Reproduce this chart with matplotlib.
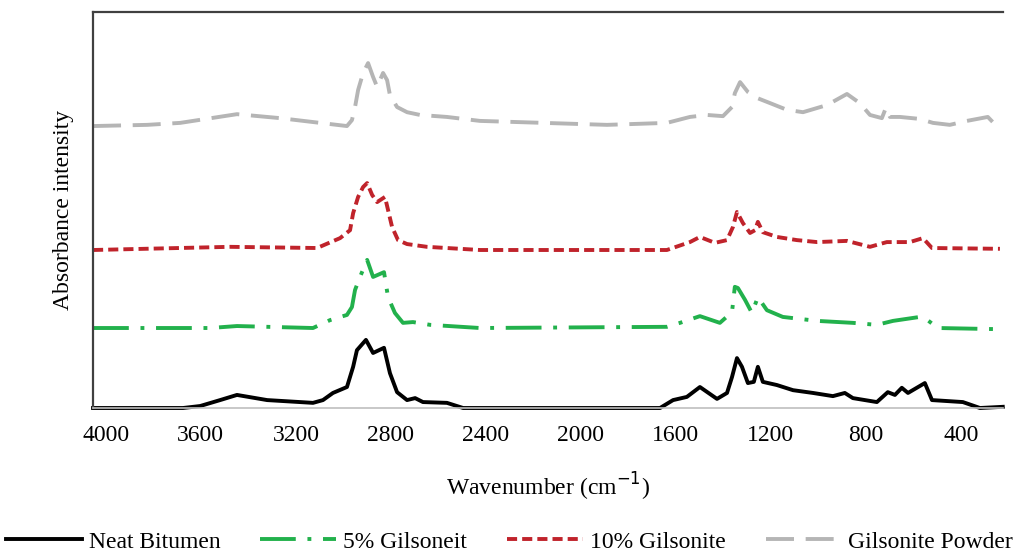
import matplotlib
matplotlib.use("Agg")
import matplotlib.pyplot as plt

plt.rcParams["font.family"] = ["Liberation Serif", "DejaVu Serif"]

# spectra (wavenumber in cm^-1, stacked absorbance)
neat_wn = [4054, 3675, 3603, 3519, 3448, 3321, 3128, 3086, 3044, 2985, 2959, 2943,
           2905, 2875, 2829, 2804, 2774, 2732, 2698, 2665, 2564, 2496, 1667, 1612,
           1554, 1499, 1427, 1385, 1364, 1343, 1322, 1297, 1272, 1255, 1234, 1175,
           1107, 1023, 939, 889, 855, 754, 708, 678, 649, 623, 552, 522, 392, 320, 224]
neat_ab = [0, 0, 0.005, 0.020, 0.033, 0.020, 0.013, 0.020, 0.038, 0.053, 0.104, 0.146,
           0.172, 0.139, 0.152, 0.088, 0.040, 0.020, 0.025, 0.015, 0.013, 0, 0, 0.020,
           0.028, 0.053, 0.023, 0.038, 0.078, 0.126, 0.104, 0.063, 0.066, 0.104, 0.066, 0.058,
           0.045, 0.038, 0.030, 0.038, 0.025, 0.015, 0.040, 0.033, 0.051, 0.038, 0.063, 0.020,
           0.015, 0, 0.003]

g5_wn = [4054, 3561, 3448, 3128, 3056, 2985, 2964, 2951, 2930, 2900, 2875, 2829,
         2812, 2783, 2749, 2707, 2635, 2425, 1638, 1583, 1499, 1415, 1364, 1352,
         1339, 1309, 1280, 1255, 1217, 1150, 1006, 855, 754, 686, 573, 552, 497, 236]
g5_ab = [0.202, 0.202, 0.207, 0.202, 0.222, 0.235, 0.255, 0.298, 0.331, 0.374, 0.331, 0.343,
         0.280, 0.240, 0.215, 0.217, 0.210, 0.202, 0.205, 0.215, 0.232, 0.215, 0.242, 0.306,
         0.303, 0.273, 0.240, 0.280, 0.247, 0.230, 0.220, 0.215, 0.210, 0.220, 0.230, 0.227,
         0.202, 0.199]

g10_wn = [4054, 3477, 3111, 3014, 2972, 2959, 2938, 2917, 2900, 2879, 2858, 2825,
          2812, 2795, 2770, 2732, 2648, 2425, 1638, 1541, 1499, 1436, 1385, 1360,
          1343, 1318, 1288, 1267, 1255, 1234, 1175, 1091, 1006, 880, 783, 712, 615,
          560, 522, 236]
g10_ab = [0.399, 0.407, 0.404, 0.429, 0.449, 0.492, 0.533, 0.558, 0.568, 0.538, 0.520, 0.533,
          0.500, 0.457, 0.424, 0.414, 0.407, 0.399, 0.399, 0.419, 0.432, 0.417, 0.424, 0.457,
          0.495, 0.467, 0.442, 0.449, 0.470, 0.444, 0.432, 0.424, 0.419, 0.422, 0.407, 0.419,
          0.419, 0.429, 0.404, 0.402]

powder_wn = [4054, 3826, 3687, 3448, 3267, 3098, 2985, 2964, 2951, 2938, 2917, 2896,
             2875, 2858, 2833, 2816, 2804, 2774, 2732, 2677, 2564, 2425, 1890, 1638,
             1541, 1469, 1402, 1364, 1352, 1330, 1297, 1259, 1204, 1133, 1065, 964,
             880, 826, 783, 733, 716, 699, 657, 573, 518, 447, 375, 287, 266, 224]
powder_ab = [0.712, 0.715, 0.720, 0.742, 0.732, 0.720, 0.712, 0.727, 0.760, 0.803, 0.846, 0.871,
             0.836, 0.811, 0.846, 0.828, 0.790, 0.760, 0.747, 0.740, 0.735, 0.725, 0.715, 0.720,
             0.735, 0.740, 0.737, 0.760, 0.795, 0.823, 0.798, 0.783, 0.770, 0.753, 0.747, 0.765,
             0.793, 0.770, 0.740, 0.732, 0.758, 0.735, 0.735, 0.730, 0.720, 0.715, 0.725, 0.735,
             0.722, 0.715]

xticks = [4000, 3600, 3200, 2800, 2400, 2000, 1600, 1200, 800, 400]

fig = plt.figure(figsize=(10.19, 5.53), dpi=100)
ax = fig.add_axes([0.0913, 0.2622, 0.893, 0.7161])

lw = 2.8
ax.plot(neat_wn, neat_ab, color="black", lw=lw, label="Neat Bitumen", clip_on=False,
        solid_joinstyle="round")
ax.plot(g5_wn, g5_ab, color="#22B14C", lw=lw, dashes=(9.2, 3, 1, 3), label="5% Gilsoneit")
ax.plot(g10_wn, g10_ab, color="#C0232B", lw=lw, dashes=(2.6, 1.3), label="10% Gilsonite")
ax.plot(powder_wn, powder_ab, color="#B5B5B5", lw=lw, dashes=(7.2, 3), label="Gilsonite Powder")

ax.set_xlim(4054, 223)
ax.set_ylim(0, 1)
ax.set_xticks(xticks)
ax.set_xticklabels([str(t) for t in xticks])
ax.set_yticks([])
ax.tick_params(axis="x", length=0, pad=12, labelsize=17)

ax.spines["right"].set_visible(False)
for s in ("left", "top"):
    ax.spines[s].set_color("#404040")
    ax.spines[s].set_linewidth(1.6)
ax.spines["bottom"].set_color("#BFBFBF")
ax.spines["bottom"].set_linewidth(1.2)

ax.set_xlabel("Wavenumber (cm$^{-1}$)", fontsize=17, labelpad=18)
ax.set_ylabel("Absorbance intensity", fontsize=17, labelpad=14)

fig.legend(loc="center", bbox_to_anchor=(0.5, 0.02), ncol=4, frameon=False,
           fontsize=17, handlelength=3.2, handletextpad=0.3, columnspacing=1.7)

fig.savefig("out.png", dpi=100)
